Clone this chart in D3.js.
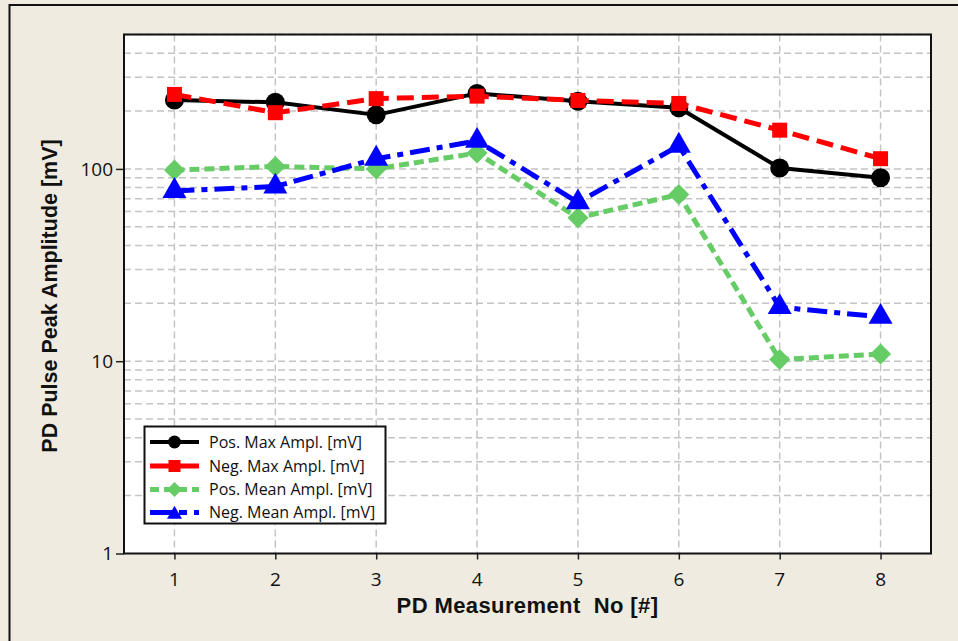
<!DOCTYPE html>
<html>
<head>
<meta charset="utf-8">
<script src="https://cdn.jsdelivr.net/npm/d3@7"></script>
<style>
  html, body { margin: 0; padding: 0; background: #efebe0; }
  svg { display: block; }
</style>
</head>
<body>
<svg id="chart" width="958" height="641"></svg>
<script>
// ---- data ----
const measurements = [1, 2, 3, 4, 5, 6, 7, 8];
const posMax  = [228, 222, 191, 247, 225, 208, 101, 90];
const negMax  = [244, 196, 232, 239, 227, 219, 159, 113];
const posMean = [98.6, 103, 100, 121, 55.7, 73.6, 10.2, 10.9];
const negMean = [76.8, 81, 113, 140, 67, 132, 19.1, 17.0];
const seriesNames = ["Pos. Max Ampl. [mV]", "Neg. Max Ampl. [mV]", "Pos. Mean Ampl. [mV]", "Neg. Mean Ampl. [mV]"];
const yTickLabels = [1, 10, 100];
const xTickLabels = [1, 2, 3, 4, 5, 6, 7, 8];

const svg = d3.select("#chart");
const W = 958, H = 641;
const L = 124, R = 931, T = 34.5, B = 553.5;

// background & outer frame
svg.append("rect").attr("x", 0).attr("y", 0).attr("width", W).attr("height", H).attr("fill", "#efebe0");
svg.append("path").attr("d", `M9.5,${H} L9.5,5 L${W},5`).attr("fill", "none").attr("stroke", "#111").attr("stroke-width", 2);

const x = d3.scaleLinear().domain([0.5, 8.5]).range([L, R]);
const y = d3.scaleLog().domain([1, 500]).range([B, T]);

// plot area
svg.append("rect").attr("x", L).attr("y", T).attr("width", R - L).attr("height", B - T).attr("fill", "#fff");

// grid
const gridVals = [];
[1, 10, 100].forEach(d => { for (let k = 1; k <= 9; k++) { const v = d * k; if (v <= 500) gridVals.push(v); } });
const grid = svg.append("g");
grid.selectAll("line.h").data(gridVals.filter(v => v > 1)).enter().append("line")
  .attr("x1", L).attr("x2", R).attr("y1", d => y(d)).attr("y2", d => y(d))
  .attr("stroke", "#c4c4c4").attr("stroke-width", 1.5).attr("stroke-dasharray", "7,4");
grid.selectAll("line.v").data(measurements).enter().append("line")
  .attr("x1", d => x(d)).attr("x2", d => x(d)).attr("y1", T).attr("y2", B)
  .attr("stroke", "#c4c4c4").attr("stroke-width", 1.5).attr("stroke-dasharray", "7,4");

// axes (tick marks via d3.axis, labels as explicit text from scales)
const tickFont = "'Open Sans', 'DejaVu Sans', sans-serif";
const xAxis = d3.axisBottom(x).tickValues(xTickLabels).tickFormat("").tickSize(6).tickSizeOuter(0);
const gx = svg.append("g").attr("transform", `translate(0,${B})`).call(xAxis);
gx.select(".domain").remove();
gx.selectAll(".tick line").attr("stroke", "#222").attr("stroke-width", 1.5);

const yAxis = d3.axisLeft(y).tickValues(yTickLabels).tickFormat("").tickSize(8).tickSizeOuter(0);
const gy = svg.append("g").attr("transform", `translate(${L},0)`).call(yAxis);
gy.select(".domain").remove();
gy.selectAll(".tick line").attr("stroke", "#222").attr("stroke-width", 1.5);

svg.append("g").selectAll("text").data(xTickLabels).enter().append("text")
  .attr("x", d => x(d)).attr("y", B + 32).attr("text-anchor", "middle")
  .style("font-family", tickFont).style("font-size", "19px").attr("fill", "#111").text(d => d);
svg.append("g").selectAll("text").data(yTickLabels).enter().append("text")
  .attr("x", L - 11).attr("y", d => y(d)).attr("dy", "0.36em").attr("text-anchor", "end")
  .style("font-family", tickFont).style("font-size", "19px").attr("fill", "#111").text(d => d);

// plot border
svg.append("rect").attr("x", L).attr("y", T).attr("width", R - L).attr("height", B - T)
  .attr("fill", "none").attr("stroke", "#111").attr("stroke-width", 2);

// markers
function markerPath(type, s) {
  if (type === "circle") return d3.symbol(d3.symbolCircle, Math.PI * s * s)();
  if (type === "square") return `M${-s},${-s}L${s},${-s}L${s},${s}L${-s},${s}Z`;
  if (type === "diamond") return `M0,${-s}L${s},0L0,${s}L${-s},0Z`;
  if (type === "triangle") { const h = s * Math.sqrt(3) / 2; return `M0,${-2*h/3}L${s/2},${h/3}L${-s/2},${h/3}Z`; }
}

const series = [
  { name: seriesNames[0], values: posMax,  color: "#000000", dash: null,          width: 4, marker: "circle",   size: 9.5, lsize: 6.5 },
  { name: seriesNames[1], values: negMax,  color: "#ff0000", dash: "17,8",        width: 5, marker: "square",   size: 7.5, lsize: 6 },
  { name: seriesNames[2], values: posMean, color: "#66cc66", dash: "10,5",        width: 5, marker: "diamond",  size: 10.5, lsize: 7.5 },
  { name: seriesNames[3], values: negMean, color: "#0000ff", dash: "20,7,6,7",    width: 5, marker: "triangle", size: 24, lsize: 15 }
];

const line = d3.line().x(d => x(d[0])).y(d => y(d[1]));
series.forEach(s => {
  const pts = measurements.map((m, i) => [m, s.values[i]]);
  const g = svg.append("g");
  g.append("path").datum(pts).attr("d", line).attr("fill", "none")
    .attr("stroke", s.color).attr("stroke-width", s.width)
    .attr("stroke-dasharray", s.dash).attr("stroke-linejoin", "round");
  g.selectAll("path.m").data(pts).enter().append("path").attr("class", "m")
    .attr("d", markerPath(s.marker, s.size))
    .attr("transform", d => `translate(${x(d[0])},${y(d[1])})`)
    .attr("fill", s.color);
});

// legend
const lg = svg.append("g");
lg.append("rect").attr("x", 144.5).attr("y", 426.5).attr("width", 241).attr("height", 97)
  .attr("fill", "#fff").attr("stroke", "#111").attr("stroke-width", 2);
const rowY = [442, 466, 489.5, 512.5];
series.forEach((s, i) => {
  const ry = rowY[i];
  lg.append("line").attr("x1", 150).attr("x2", 199).attr("y1", ry).attr("y2", ry)
    .attr("stroke", s.color).attr("stroke-width", s.width).attr("stroke-dasharray", s.dash ? (i === 3 ? "22,7,8,7" : (i===1? null : "9,5")) : null);
  const dy = s.marker === "triangle" ? 2 : 0;
  lg.append("path").attr("d", markerPath(s.marker, s.lsize))
    .attr("transform", `translate(174.5,${ry + dy})`).attr("fill", s.color);
  lg.append("text").attr("x", 209).attr("y", ry).attr("dy", "0.36em")
    .style("font-family", tickFont).style("font-size", "16px").attr("fill", "#111").text(s.name);
});

// axis titles
const titleFont = "'Liberation Sans', Arial, sans-serif";
svg.append("text").attr("x", (L + R) / 2).attr("y", 613).attr("text-anchor", "middle")
  .style("font-family", titleFont).attr("font-weight", "bold").style("font-size", "22px").style("letter-spacing", "0.4px").attr("fill", "#111")
  .style("white-space", "pre").text("PD Measurement  No [#]");
svg.append("text").attr("transform", `translate(57,${(T + B) / 2 + 2}) rotate(-90)`).attr("text-anchor", "middle")
  .style("font-family", titleFont).attr("font-weight", "bold").style("font-size", "21.5px").attr("fill", "#111")
  .text("PD Pulse Peak Amplitude [mV]");
</script>
</body>
</html>
